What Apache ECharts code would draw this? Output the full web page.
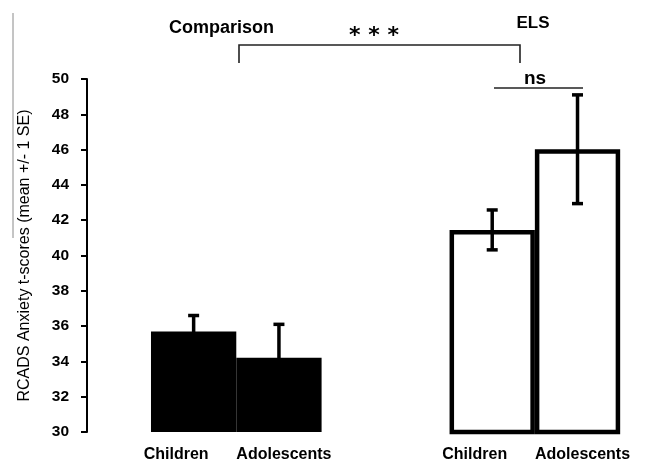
<!DOCTYPE html>
<html>
<head>
<meta charset="utf-8">
<script src="https://cdn.jsdelivr.net/npm/echarts@6/dist/echarts.min.js"></script>
<style>html,body{margin:0;padding:0;background:#fff;}#c{width:646px;height:463px;}</style>
</head>
<body>
<div id="c"></div>
<script>
// ---- data ----
const groups = ["Comparison", "ELS"];
const ageLabels = ["Children", "Adolescents"];
const meanComparison = [35.7, 34.2];
const seComparison = [0.9, 1.9];
const meanELS = [41.45, 46.02];
const seELS = [1.13, 3.08];
const yTicks = [30, 32, 34, 36, 38, 40, 42, 44, 46, 48, 50];
const yAxisTitle = "RCADS Anxiety t-scores (mean +/- 1 SE)";
const sigMain = "* * *";
const sigAge = "ns";

// ---- layout: category slots used for each bar ----
const slotCount = 13;
const slotComparison = [2, 4];
const slotELS = [9, 11];

const cats = new Array(slotCount).fill('');
const barData = new Array(slotCount).fill(null);
const errData = [];
ageLabels.forEach((lab, i) => {
  cats[slotComparison[i]] = lab;
  cats[slotELS[i]] = lab;
  barData[slotComparison[i]] = { value: meanComparison[i], itemStyle: { color: '#000', borderWidth: 0 } };
  barData[slotELS[i]] = { value: meanELS[i], itemStyle: { color: '#fff', borderColor: '#000', borderWidth: 4.5 } };
  errData.push([slotComparison[i], meanComparison[i] - seComparison[i], meanComparison[i] + seComparison[i]]);
  errData.push([slotELS[i], meanELS[i] - seELS[i], meanELS[i] + seELS[i]]);
});

const chart = echarts.init(document.getElementById('c'), null, { renderer: 'canvas' });
const font = '"Liberation Sans", Arial, sans-serif';

chart.setOption({
  animation: false,
  backgroundColor: '#fff',
  grid: { left: 87, top: 79, bottom: 30, right: 4.5, containLabel: false },
  xAxis: {
    type: 'category',
    data: cats,
    axisLine: { show: false },
    axisTick: { show: false },
    axisLabel: {
      interval: 0,
      margin: 15,
      formatter: function (v) {
        if (v === ageLabels[0]) return '{c|' + v + '}';
        if (v === ageLabels[1]) return '{a|' + v + '}';
        return '';
      },
      rich: {
        c: { fontFamily: font, fontWeight: 'bold', fontSize: 16, color: '#000', padding: [0, 35, 0, 0] },
        a: { fontFamily: font, fontWeight: 'bold', fontSize: 16, color: '#000', padding: [0, 0, 0, 10] }
      }
    }
  },
  yAxis: {
    type: 'value',
    min: yTicks[0],
    max: yTicks[yTicks.length - 1],
    interval: yTicks[1] - yTicks[0],
    name: yAxisTitle,
    nameLocation: 'middle',
    nameGap: 54,
    nameTextStyle: { fontFamily: font, fontSize: 16, color: '#000' },
    axisLine: { show: true, lineStyle: { color: '#000', width: 2 } },
    axisTick: { show: true, inside: false, length: 6, lineStyle: { color: '#000', width: 2 } },
    splitLine: { show: false },
    axisLabel: { margin: 18, fontFamily: font, fontWeight: 'bold', fontSize: 15.5, color: '#000' }
  },
  series: [
    {
      type: 'bar',
      data: barData,
      barWidth: 85.3,
      barGap: '-100%',
      z: 2
    },
    {
      type: 'custom',
      data: errData,
      z: 5,
      renderItem: function (params, api) {
        const x = api.value(0);
        const lo = api.coord([x, api.value(1)]);
        const hi = api.coord([x, api.value(2)]);
        const hw = 5.5;
        const st = { stroke: '#000', lineWidth: 3.5 };
        return {
          type: 'group',
          children: [
            { type: 'line', shape: { x1: lo[0], y1: lo[1], x2: hi[0], y2: hi[1] }, style: st },
            { type: 'line', shape: { x1: hi[0] - hw, y1: hi[1], x2: hi[0] + hw, y2: hi[1] }, style: st },
            { type: 'line', shape: { x1: lo[0] - hw, y1: lo[1], x2: lo[0] + hw, y2: lo[1] }, style: st }
          ]
        };
      }
    }
  ],
  graphic: [
    { type: 'line', shape: { x1: 13, y1: 13, x2: 13, y2: 238 }, style: { stroke: '#8a8a8a', lineWidth: 1 } },
    { type: 'text', x: 221.5, y: 28, style: { text: groups[0], fontFamily: font, fontWeight: 'bold', fontSize: 18, fill: '#000', align: 'center', verticalAlign: 'middle' } },
    { type: 'text', x: 533, y: 23, style: { text: groups[1], fontFamily: font, fontWeight: 'bold', fontSize: 17, fill: '#000', align: 'center', verticalAlign: 'middle' } },
    { type: 'text', x: 374, y: 36.5, style: { text: sigMain, fontFamily: '"DejaVu Sans", sans-serif', fontWeight: 'bold', fontSize: 22, fill: '#000', align: 'center', verticalAlign: 'middle' } },
    { type: 'polyline', shape: { points: [[239, 63], [239, 45], [520, 45], [520, 63]] }, style: { stroke: '#222', lineWidth: 1.6, fill: null } },
    { type: 'text', x: 535, y: 79, style: { text: sigAge, fontFamily: font, fontWeight: 'bold', fontSize: 19, fill: '#000', align: 'center', verticalAlign: 'middle' } },
    { type: 'line', shape: { x1: 494, y1: 88, x2: 583, y2: 88 }, style: { stroke: '#222', lineWidth: 1.6 } }
  ]
});
</script>
</body>
</html>
